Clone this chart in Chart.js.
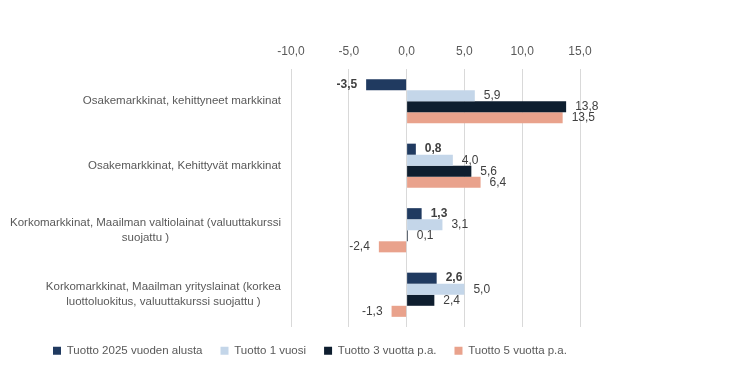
<!DOCTYPE html>
<html>
<head>
<meta charset="utf-8">
<script src="https://cdn.jsdelivr.net/npm/chart.js@4"></script>
<style>
  html, body { margin: 0; padding: 0; background: #fff; }
  #wrap { width: 731px; height: 380px; }
</style>
</head>
<body>
<div id="wrap"><canvas id="c" width="731" height="380"></canvas></div>
<script>
const categories = [
  ["Osakemarkkinat, kehittyneet markkinat"],
  ["Osakemarkkinat, Kehittyvät markkinat"],
  ["Korkomarkkinat, Maailman valtiolainat (valuuttakurssi", "suojattu )"],
  ["Korkomarkkinat, Maailman yrityslainat (korkea", "luottoluokitus, valuuttakurssi suojattu )"]
];
const seriesNames = ["Tuotto 2025 vuoden alusta", "Tuotto 1 vuosi", "Tuotto 3 vuotta p.a.", "Tuotto 5 vuotta p.a."];
const ytd2025 = [-3.5, 0.8, 1.3, 2.6];
const year1 = [5.9, 4.0, 3.1, 5.0];
const year3 = [13.8, 5.6, 0.1, 2.4];
const year5 = [13.5, 6.4, -2.4, -1.3];
const xTicks = [-10, -5, 0, 5, 10, 15];
const colors = ["#203A60", "#C4D6E9", "#0E1E2F", "#E9A28C"];

const FONT = "'Liberation Sans', Arial, sans-serif";
const fmt = v => v.toFixed(1).replace('.', ',');

const labelPlugin = {
  id: 'valueLabels',
  afterDatasetsDraw(chart) {
    const ctx = chart.ctx;
    ctx.save();
    ctx.textBaseline = 'middle';
    chart.data.datasets.forEach((ds, di) => {
      const meta = chart.getDatasetMeta(di);
      ctx.font = (di === 0 ? 'bold ' : '') + '12px ' + FONT;
      ctx.fillStyle = '#404040';
      meta.data.forEach((el, i) => {
        const v = ds.data[i];
        if (v >= 0) { ctx.textAlign = 'left'; ctx.fillText(fmt(v), el.x + 9, el.y); }
        else { ctx.textAlign = 'right'; ctx.fillText(fmt(v), el.x - 9, el.y); }
      });
    });
    ctx.restore();
  }
};

const catLabelPlugin = {
  id: 'catLabels',
  afterDraw(chart) {
    const ctx = chart.ctx;
    const sc = chart.scales.y;
    const rightX = 281;
    const lh = 15;
    ctx.save();
    ctx.font = '11.5px ' + FONT;
    ctx.fillStyle = '#595959';
    ctx.textBaseline = 'middle';
    ctx.textAlign = 'center';
    categories.forEach((lines, i) => {
      const yc = sc.getPixelForValue(i);
      const w = Math.max(...lines.map(l => ctx.measureText(l).width));
      const cx = rightX - w / 2;
      const y0 = yc - (lines.length - 1) * lh / 2;
      lines.forEach((l, k) => ctx.fillText(l, cx, y0 + k * lh));
    });
    ctx.restore();
  }
};

const seriesData = [ytd2025, year1, year3, year5];

new Chart(document.getElementById('c'), {
  type: 'bar',
  data: {
    labels: categories.map(l => l.join(' ')),
    datasets: seriesData.map((d, i) => ({
      label: seriesNames[i],
      data: d,
      backgroundColor: colors[i],
      borderWidth: 0,
      yAxisID: 'y',
      categoryPercentage: 0.685,
      barPercentage: 1.0
    }))
  },
  options: {
    indexAxis: 'y',
    responsive: false,
    animation: false,
    layout: { padding: { left: 35, right: 0, top: 0, bottom: 13.5 } },
    scales: {
      x: {
        position: 'top',
        min: -10,
        max: 15,
        afterBuildTicks(s) { s.ticks = xTicks.map(v => ({ value: v })); },
        ticks: {
          callback: v => fmt(v),
          font: { family: FONT, size: 12 },
          color: '#595959',
          padding: 10
        },
        grid: { color: '#D9D9D9', lineWidth: 1, drawTicks: false },
        border: { display: false },
        afterFit(s) { s.height = 69; }
      },
      y: {
        position: 'left',
        ticks: { display: false },
        grid: { display: false },
        border: { display: false },
        afterFit(s) { s.width = 256; }
      },
      y2: {
        type: 'category',
        position: 'right',
        labels: categories.map(l => l.join(' ')),
        display: true,
        ticks: { display: false },
        grid: { display: false },
        border: { display: false },
        afterFit(s) { s.width = 151; }
      }
    },
    plugins: {
      legend: {
        position: 'bottom',
        align: 'start',
        labels: {
          boxWidth: 8,
          boxHeight: 8,
          padding: 18,
          color: '#595959',
          font: { family: FONT, size: 11.5 }
        }
      },
      tooltip: { enabled: false }
    }
  },
  plugins: [labelPlugin, catLabelPlugin]
});
</script>
</body>
</html>
